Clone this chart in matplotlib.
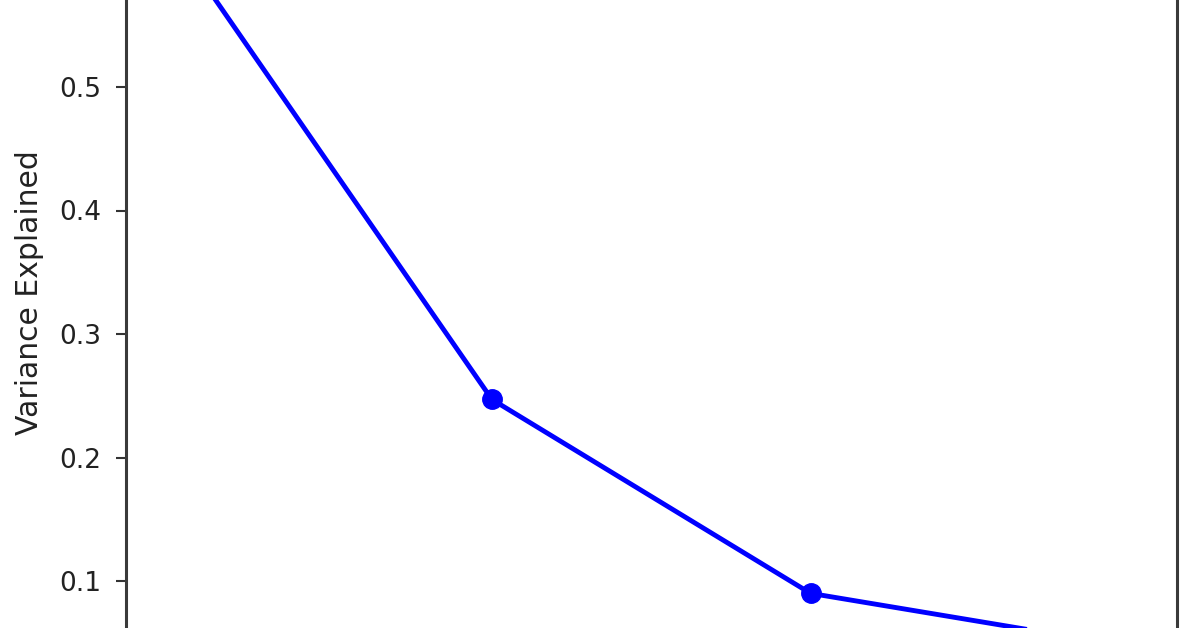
import matplotlib
matplotlib.use("Agg")
import matplotlib.pyplot as plt

# Data (scree plot, proportion of variance explained)
components = [1, 2, 3, 4]
variance_explained = [0.620, 0.247, 0.090, 0.047]
y_ticks = [0.1, 0.2, 0.3, 0.4, 0.5]
y_label = "Variance Explained"

W, H, DPI = 1196, 628, 100
fig = plt.figure(figsize=(W / DPI, H / DPI), dpi=DPI)
fig.patch.set_facecolor("white")

ax = fig.add_axes([0.1, 0.1, 0.8, 0.8])
ax.plot(components, variance_explained, "-o", color="#0000ff",
        linewidth=3.5, markersize=14)

ax.set_yticks(y_ticks)
ax.set_yticklabels([f"{t:.1f}" for t in y_ticks])
ax.set_xticks([])
ax.set_ylabel(y_label, fontsize=21.5, color="#222222")
ax.tick_params(axis="y", labelsize=19, length=7.2, width=1.5, pad=10,
               colors="#333333", labelcolor="#222222")
for sp in ax.spines.values():
    sp.set_linewidth(2.2)
    sp.set_color("#3a3a3a")

# Layout: crop of a larger figure — compute axes position in pixels
fig.canvas.draw()
ymin, ymax = ax.get_ylim()
px_per_unit = 123.5 / 0.1
zero_px = 704.5            # pixel row (from top) where value 0 would sit
left_px, right_px = 125.5, 1177.0
top_px = zero_px - ymax * px_per_unit
bot_px = zero_px - ymin * px_per_unit
ax.set_position([left_px / W, (H - bot_px) / H,
                 (right_px - left_px) / W, (bot_px - top_px) / H])
ax.yaxis.set_label_coords((44 - left_px) / (right_px - left_px), 0.5)

fig.savefig("out.png", dpi=DPI, facecolor="white")
